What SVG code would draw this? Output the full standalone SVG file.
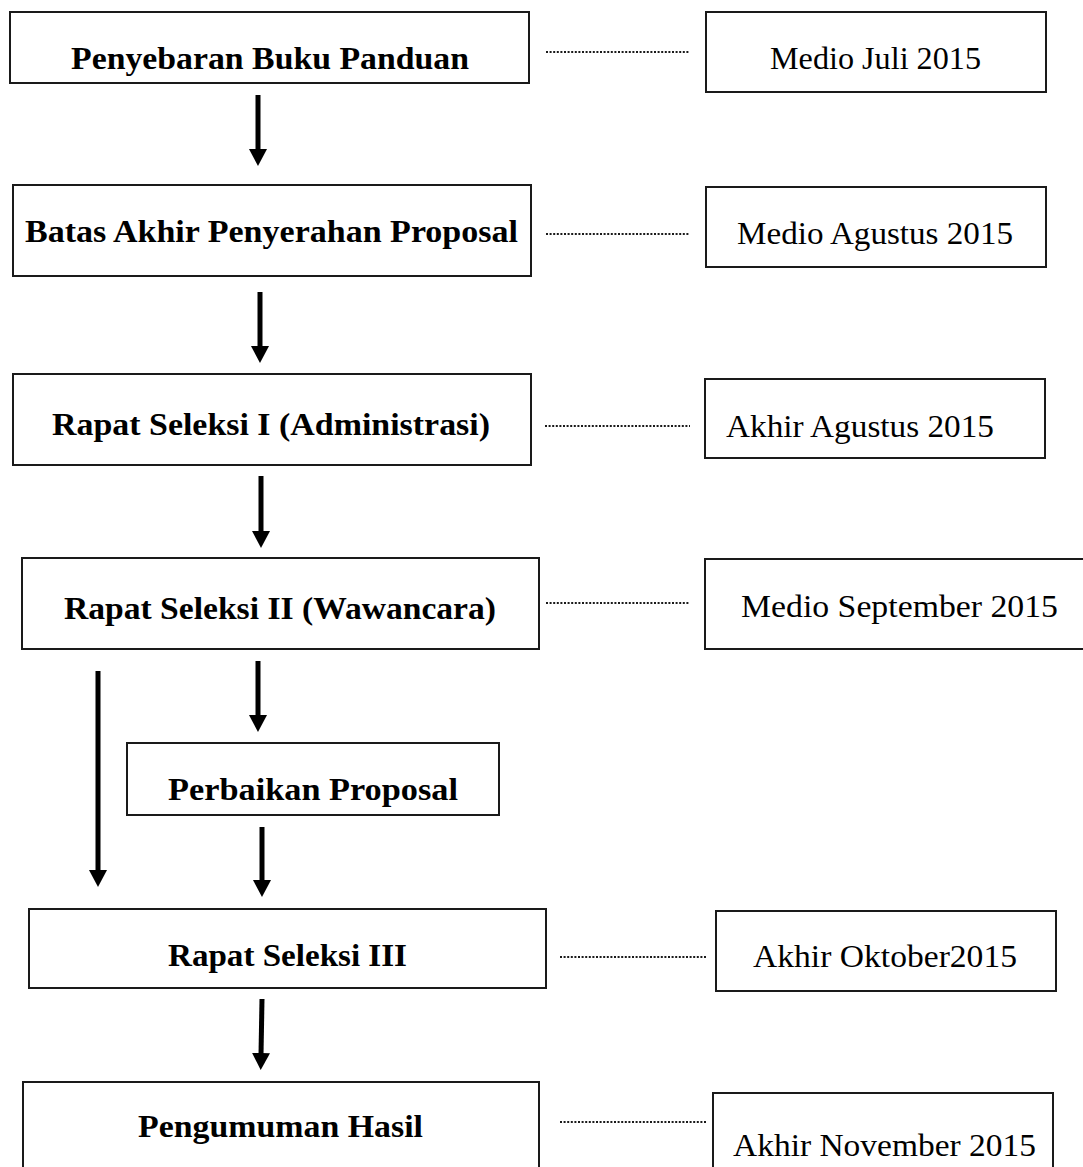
<svg xmlns="http://www.w3.org/2000/svg" width="1083" height="1167" viewBox="0 0 1083 1167">
<style>
.box{fill:#fff;stroke:#1a1a1a;stroke-width:2}
.t{font-family:"Liberation Serif","Times New Roman",serif;font-size:31px;fill:#000}
.b{font-weight:bold}
.dot{stroke:#1a1a1a;stroke-width:2;stroke-dasharray:2 1.6;fill:none}
.arr{stroke:#000;stroke-width:5;fill:none;marker-end:url(#ah)}
</style>
<defs>
<marker id="ah" viewBox="0 0 17 18" refX="2" refY="9" markerWidth="17" markerHeight="18" markerUnits="userSpaceOnUse" orient="auto">
<path d="M0,0 L17,9 L0,18 z" fill="#000"/>
</marker>
</defs>
<rect width="1083" height="1167" fill="#fff"/>

<g id="connectors">
<line class="arr" x1="258" y1="95" x2="258" y2="151"/>
<line class="arr" x1="260" y1="292" x2="260" y2="348"/>
<line class="arr" x1="261" y1="476" x2="261" y2="533"/>
<line class="arr" x1="258" y1="661" x2="258" y2="717"/>
<line class="arr" x1="98" y1="671" x2="98" y2="872"/>
<line class="arr" x1="262" y1="827" x2="262" y2="882"/>
<line class="arr" x1="262" y1="999" x2="261" y2="1055"/>
<line class="dot" x1="546" y1="52" x2="690" y2="52"/>
<line class="dot" x1="546" y1="234" x2="690" y2="234"/>
<line class="dot" x1="545" y1="426" x2="690" y2="426"/>
<line class="dot" x1="546" y1="603" x2="690" y2="603"/>
<line class="dot" x1="560" y1="957" x2="706" y2="957"/>
<line class="dot" x1="560" y1="1122" x2="706" y2="1122"/>
</g>

<g id="n1">
<rect class="box" x="10" y="12" width="519" height="71"/>
<text class="t b" x="71" y="69" textLength="398" lengthAdjust="spacingAndGlyphs">Penyebaran Buku Panduan</text>
</g>
<g id="n2">
<rect class="box" x="13" y="185" width="518" height="91"/>
<text class="t b" x="25" y="242" textLength="493" lengthAdjust="spacingAndGlyphs">Batas Akhir Penyerahan Proposal</text>
</g>
<g id="n3">
<rect class="box" x="13" y="374" width="518" height="91"/>
<text class="t b" x="52" y="435" textLength="438" lengthAdjust="spacingAndGlyphs">Rapat Seleksi I (Administrasi)</text>
</g>
<g id="n4">
<rect class="box" x="22" y="558" width="517" height="91"/>
<text class="t b" x="64" y="619" textLength="432" lengthAdjust="spacingAndGlyphs">Rapat Seleksi II (Wawancara)</text>
</g>
<g id="n5">
<rect class="box" x="127" y="743" width="372" height="72"/>
<text class="t b" x="168" y="800" textLength="290" lengthAdjust="spacingAndGlyphs">Perbaikan Proposal</text>
</g>
<g id="n6">
<rect class="box" x="29" y="909" width="517" height="79"/>
<text class="t b" x="168" y="966" textLength="239" lengthAdjust="spacingAndGlyphs">Rapat Seleksi III</text>
</g>
<g id="n7">
<rect class="box" x="23" y="1082" width="516" height="100"/>
<text class="t b" x="138" y="1137" textLength="285" lengthAdjust="spacingAndGlyphs">Pengumuman Hasil</text>
</g>

<g id="d1">
<rect class="box" x="706" y="12" width="340" height="80"/>
<text class="t" x="770" y="69" textLength="211" lengthAdjust="spacingAndGlyphs">Medio Juli 2015</text>
</g>
<g id="d2">
<rect class="box" x="706" y="187" width="340" height="80"/>
<text class="t" x="737" y="244" textLength="276" lengthAdjust="spacingAndGlyphs">Medio Agustus 2015</text>
</g>
<g id="d3">
<rect class="box" x="705" y="379" width="340" height="79"/>
<text class="t" x="726" y="437" textLength="268" lengthAdjust="spacingAndGlyphs">Akhir Agustus 2015</text>
</g>
<g id="d4">
<rect class="box" x="705" y="559" width="390" height="90"/>
<text class="t" x="741" y="617" textLength="317" lengthAdjust="spacingAndGlyphs">Medio September 2015</text>
</g>
<g id="d6">
<rect class="box" x="716" y="911" width="340" height="80"/>
<text class="t" x="753" y="967" textLength="264" lengthAdjust="spacingAndGlyphs">Akhir Oktober2015</text>
</g>
<g id="d7">
<rect class="box" x="713" y="1093" width="340" height="90"/>
<text class="t" x="733" y="1156" textLength="303" lengthAdjust="spacingAndGlyphs">Akhir November 2015</text>
</g>
</svg>
